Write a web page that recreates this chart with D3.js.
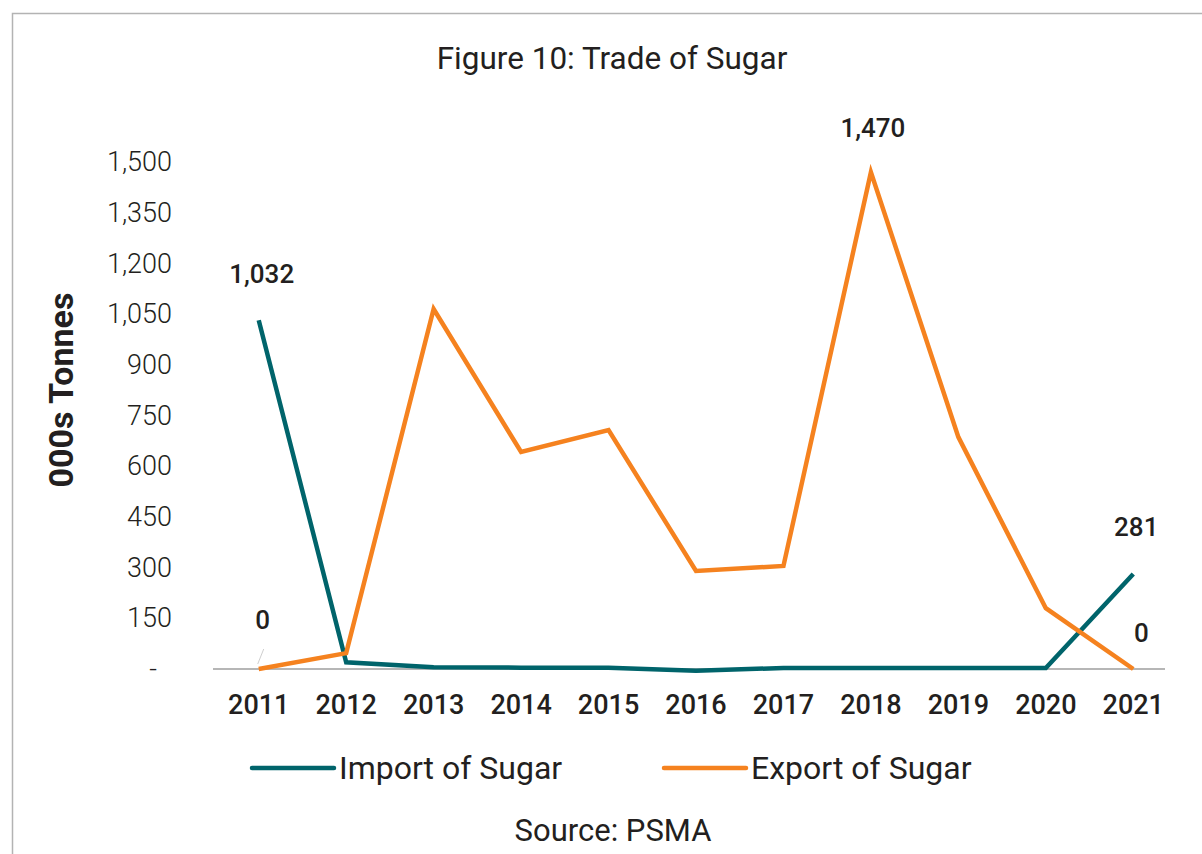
<!DOCTYPE html>
<html>
<head>
<meta charset="utf-8">
<script src="https://cdn.jsdelivr.net/npm/d3@7"></script>
<style>
  body { margin: 0; background: #fff; }
  svg text { font-family: Roboto, "Noto Sans", sans-serif; fill: #231f20; }
</style>
</head>
<body>
<svg id="chart" width="1202" height="854"></svg>
<script>
let years = ["2011", "2012", "2013", "2014", "2015", "2016", "2017", "2018", "2019", "2020", "2021"];
let importSugar = [1032, 20, 5, 4, 4, -5, 3, 3, 3, 3, 281];
let exportSugar = [0, 47, 1065, 642, 707, 290, 305, 1470, 686, 180, 0];
let yTicks = [0, 150, 300, 450, 600, 750, 900, 1050, 1200, 1350, 1500];
let seriesNames = ["Import of Sugar", "Export of Sugar"];
let colors = ["#00646b", "#f5821f"];

let svg = d3.select("svg#chart");

// frame
svg.append("rect")
	.attr("x", 12.5).attr("y", 13.5)
	.attr("width", 1210).attr("height", 860)
	.attr("fill", "none").attr("stroke", "#b3b3b3").attr("stroke-width", 1.5);

let x = d3.scaleBand().domain(years).range([215, 1177]);
let cx = function(d) { return x(d) + x.bandwidth() / 2; };
let y = d3.scaleLinear().domain([0, 1500]).range([669, 162]);

// title
svg.append("text")
	.attr("x", 612).attr("y", 69)
	.attr("text-anchor", "middle")
	.style("font-size", "31.5px").style("font-weight", 400)
	.text("Figure 10: Trade of Sugar");

// y axis (labels only)
let yAxis = svg.append("g")
	.attr("transform", "translate(172,0)")
	.call(d3.axisLeft(y).tickValues(yTicks).tickSize(0).tickPadding(0)
		.tickFormat(function(d) { return d === 0 ? "-" : d3.format(",")(d); }));
yAxis.select(".domain").remove();
yAxis.selectAll("text")
	.style("font-size", "27px").style("font-weight", 300)
	.style("fill", "#231f20");
yAxis.selectAll(".tick").filter(function(d) { return d === 0; })
	.select("text").attr("x", -15);

svg.append("text")
	.attr("transform", "translate(73,390) rotate(-90)")
	.attr("text-anchor", "middle")
	.style("font-size", "34px").style("font-weight", 700)
	.text("000s Tonnes");

// x axis
let xAxis = svg.append("g")
	.attr("transform", "translate(0,669)")
	.call(d3.axisBottom(x).tickSize(0).tickPadding(26));
xAxis.select(".domain").attr("stroke", "#9e9e9e").attr("stroke-width", 1.5)
	.attr("d", "M213,0H1165");
xAxis.selectAll("text")
	.style("font-size", "27px").style("font-weight", 500)
	.style("fill", "#231f20");

// lines
let line = d3.line()
	.x(function(d, i) { return cx(years[i]); })
	.y(function(d) { return y(d); });

[importSugar, exportSugar].forEach(function(s, k) {
	svg.append("path")
		.datum(s)
		.attr("d", line)
		.attr("fill", "none")
		.attr("stroke", colors[k])
		.attr("stroke-width", 4.5)
		.attr("stroke-linejoin", "miter");
});

// leader line for export 2011 label
svg.append("line")
	.attr("x1", cx("2011") + 5).attr("y1", y(0) - 20)
	.attr("x2", cx("2011") - 1).attr("y2", y(0) - 5)
	.attr("stroke", "#cfcfcf").attr("stroke-width", 1);

// data labels
let labels = [
	{ year: "2011", v: importSugar[0], dx: 3, dy: -37 },
	{ year: "2011", v: exportSugar[0], dx: 4, dy: -40 },
	{ year: "2018", v: exportSugar[7], dx: 2, dy: -35 },
	{ year: "2021", v: importSugar[10], dx: 3, dy: -38 },
	{ year: "2021", v: exportSugar[10], dx: 8, dy: -27 }
];
svg.selectAll("text.dlabel")
	.data(labels)
	.enter().append("text")
	.attr("class", "dlabel")
	.attr("x", function(d) { return cx(d.year) + d.dx; })
	.attr("y", function(d) { return y(d.v) + d.dy; })
	.attr("text-anchor", "middle")
	.style("font-size", "26px").style("font-weight", 500)
	.text(function(d) { return d3.format(",")(d.v); });

// legend
let legendX = [252, 664];
let legend = svg.selectAll("g.legend")
	.data(seriesNames)
	.enter().append("g")
	.attr("class", "legend")
	.attr("transform", function(d, i) { return "translate(" + legendX[i] + ",768)"; });
legend.append("line")
	.attr("x1", 0).attr("x2", 82).attr("y1", 0).attr("y2", 0)
	.attr("stroke", function(d, i) { return colors[i]; })
	.attr("stroke-width", 4.5)
	.attr("stroke-linecap", "round");
legend.append("text")
	.attr("x", 87).attr("y", 11)
	.style("font-size", "32px").style("font-weight", 400)
	.text(function(d) { return d; });

// source
svg.append("text")
	.attr("x", 613).attr("y", 841)
	.attr("text-anchor", "middle")
	.style("font-size", "31px").style("font-weight", 400)
	.text("Source: PSMA");
</script>
</body>
</html>
